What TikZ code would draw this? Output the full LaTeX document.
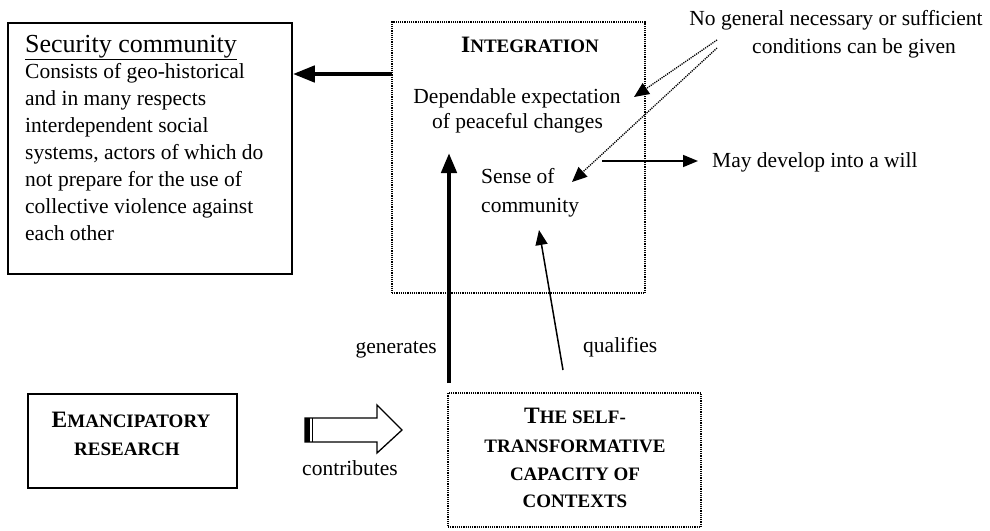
\documentclass[tikz,border=0pt]{standalone}
\usepackage{fontspec}
\setmainfont{Liberation Serif}
\usetikzlibrary{arrows.meta}
\newcommand\capA[2]{{\fontsize{23.5}{27}\selectfont #1}{\fontsize{19}{27}\selectfont #2}}
\newcommand\capB[1]{{\fontsize{19}{27}\selectfont #1}}
\tikzset{
  txt/.style={inner sep=0pt, font=\fontsize{21.5}{27}\selectfont},
  sctxt/.style={inner sep=0pt, font=\bfseries},
  solidbox/.style={draw, line width=1.6pt},
  dotbox/.style={draw, line width=1.3pt, dash pattern=on 1.2pt off 1pt},
  thinarrow/.style={line width=1.5pt, -{Triangle[length=15pt,width=12pt]}},
  dotarrow/.style={line width=1.3pt, dash pattern=on 1.2pt off 1pt, -{Triangle[length=15pt,width=13pt]}},
}
\begin{document}
\begin{tikzpicture}[x=1pt,y=-1pt]
\useasboundingbox (0,0) rectangle (990,530);
% Security community
\node[solidbox, inner sep=0pt, minimum width=284pt, minimum height=251pt] (sec) at (150,148.5) {};
\node[txt, anchor=base west, font=\fontsize{26}{30}\selectfont] (sectitle) at (25,52) {\underline{Security community}};
\node[txt, anchor=base west, align=left] (secbody) at (25,240) {Consists of geo-historical\\and in many respects\\interdependent social\\systems, actors of which do\\not prepare for the use of\\collective violence against\\each other};
% Integration
\node[dotbox, inner sep=0pt, minimum width=253pt, minimum height=271pt] (integ) at (518.5,157.5) {};
\node[sctxt, anchor=base] (integtitle) at (530,52) {\capA{I}{NTEGRATION}};
\node[txt, anchor=base, align=center, font=\fontsize{21.5}{25}\selectfont] (dep) at (517,128) {Dependable expectation\\\hspace*{1pt}of peaceful changes};
\node[txt, anchor=base west, align=left, font=\fontsize{21.5}{29}\selectfont] (sense) at (481,212) {Sense of\\community};
% note
\node[txt, anchor=base] (note1) at (836,25) {No general necessary or sufficient};
\node[txt, anchor=base] (note2) at (854,53) {conditions can be given};
\coordinate (n1) at (717,40);
\coordinate (n2) at (717,48);
\coordinate (deptip) at (634,97);
\coordinate (sensetip) at (572,182);
\draw[dotarrow] (n1) -- (deptip);
\draw[dotarrow] (n2) -- (sensetip);
% will
\node[txt, anchor=base west] (will) at (712,167) {May develop into a will};
\coordinate (willstart) at (602,161);
\draw[thinarrow, shorten >=14pt] (willstart) -- (will.west |- willstart);
% thick arrow to security
\coordinate (integleft) at (392,74);
\draw[line width=4.5pt, -{Triangle[length=22pt,width=16pt]}] (integleft) -- (sec.east |- integleft);
% Emancipatory research
\node[solidbox, inner sep=0pt, minimum width=209pt, minimum height=94pt] (eman) at (132.5,441) {};
\node[sctxt, anchor=base] (eman1) at (131,427) {\capA{E}{MANCIPATORY}};
\node[sctxt, anchor=base] (eman2) at (127,455) {\capB{RESEARCH}};
% hollow arrow
\draw[line width=1.3pt, fill=white, line join=miter] (305,418) -- (377,418) -- (377,405) -- (402,430) -- (377,453) -- (377,442) -- (305,442) -- cycle;
\fill (305,418) rectangle (310,442);
\draw[line width=1.2pt] (312.5,418) -- (312.5,442);
\node[txt, anchor=base] (contrib) at (350,475) {contributes};
% Self-transformative
\node[dotbox, inner sep=0pt, minimum width=253pt, minimum height=134pt] (self) at (574.5,460) {};
\node[sctxt, anchor=base] (self1) at (575,423) {\capA{T}{HE SELF-}};
\node[sctxt, anchor=base] (self2) at (575,452) {\capB{TRANSFORMATIVE}};
\node[sctxt, anchor=base] (self3) at (575,480) {\capB{CAPACITY OF}};
\node[sctxt, anchor=base] (self4) at (575,507) {\capB{CONTEXTS}};
% generates / qualifies
\coordinate (genstart) at (449,383);
\coordinate (gentip) at (449,153);
\draw[line width=4.5pt, -{Triangle[length=20pt,width=15pt]}] (genstart) -- (gentip);
\node[txt, anchor=base east] (gen) at (437,353) {generates};
\coordinate (qstart) at (563,370);
\coordinate (qtip) at (539,230);
\draw[thinarrow] (qstart) -- (qtip);
\node[txt, anchor=base west] (qual) at (583,352) {qualifies};
\end{tikzpicture}
\end{document}
